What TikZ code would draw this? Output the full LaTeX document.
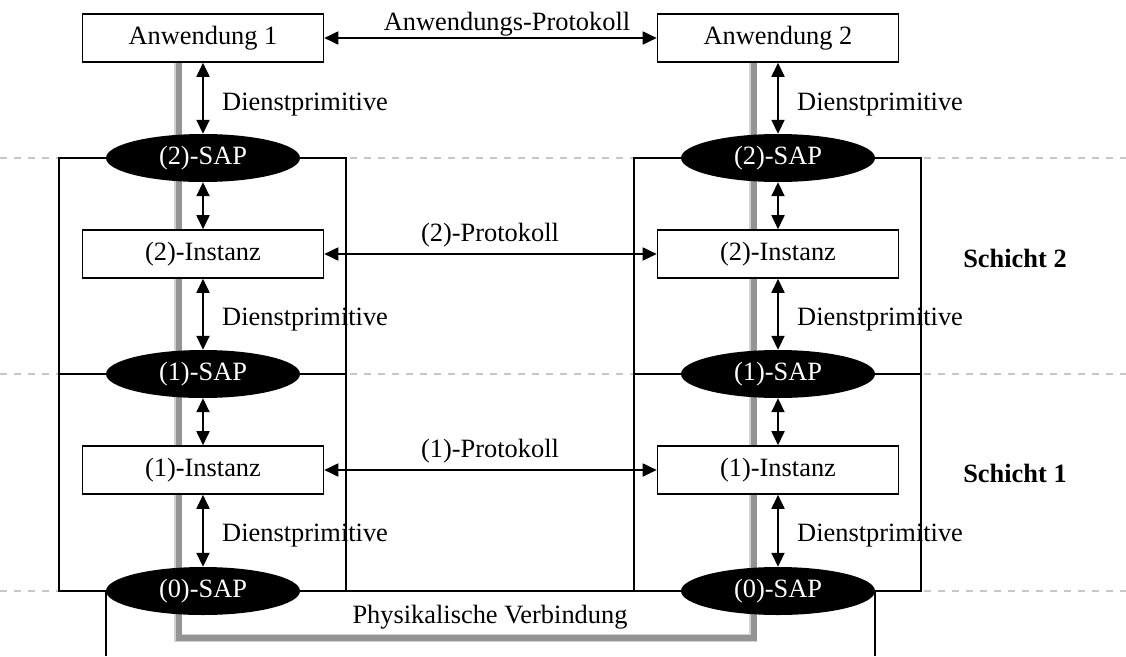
\documentclass[tikz,border=0pt]{standalone}
\usepackage{fontspec}
\setmainfont{Liberation Serif}
\usetikzlibrary{arrows.meta,shapes.geometric,backgrounds,calc}
\begin{document}
\begin{tikzpicture}[x=1pt,y=-1pt,
  every node/.style={font=\fontsize{26.4}{30}\selectfont, inner sep=0pt},
  box/.style={draw, line width=1.6pt, fill=white, minimum width=241pt, minimum height=48pt},
  sap/.style={ellipse, fill=black, text=white, minimum width=194pt, minimum height=48pt},
  arr/.style={line width=1.8pt, {Triangle[length=14pt,width=13pt]}-{Triangle[length=14pt,width=13pt]}},
  frame/.style={line width=1.6pt, line join=miter},
  sepline/.style={draw=black!22, line width=1.8pt, dash pattern=on 7pt off 7pt},
  physhalo/.style={line width=7.5pt, draw=black!18, line join=miter},
  phys/.style={line width=5.5pt, draw=black!42, line join=miter},
  lbl/.style={anchor=base west},
  clbl/.style={anchor=base},
  layer/.style={anchor=base, font=\fontsize{26.4}{30}\selectfont\bfseries},
]
\useasboundingbox (0,0) rectangle (1126,656);

% left column
\node[box] (a1) at (203,38) {Anwendung 1};
\node[sap] (s2a) at (203,158) {(2)-SAP};
\node[box] (i2a) at (203,254) {(2)-Instanz};
\node[sap] (s1a) at (203,374) {(1)-SAP};
\node[box] (i1a) at (203,470) {(1)-Instanz};
\node[sap] (s0a) at (203,591) {(0)-SAP};

% right column
\node[box] (a2) at (778,38) {Anwendung 2};
\node[sap] (s2b) at (778,158) {(2)-SAP};
\node[box] (i2b) at (778,254) {(2)-Instanz};
\node[sap] (s1b) at (778,374) {(1)-SAP};
\node[box] (i1b) at (778,470) {(1)-Instanz};
\node[sap] (s0b) at (778,591) {(0)-SAP};

% helper coordinates
\coordinate (fLl) at (59,158);
\coordinate (fLr) at (346,158);
\coordinate (fRl) at (634,158);
\coordinate (fRr) at (921,158);
\coordinate (bot) at (0,656);
\coordinate (gb) at (0,638);
\coordinate (xl) at (0,0);
\coordinate (xr) at (1126,0);

\begin{pgfonlayer}{background}
  % dashed layer separators
  \draw[sepline] (s2a.center -| xl) -- (s2a.center -| xr);
  \draw[sepline] (s1a.center -| xl) -- (s1a.center -| xr);
  \draw[sepline] (s0a.center -| xl) -- (s0a.center -| xr);
  % physical connection (grey)
  \draw[physhalo] ([xshift=-25pt]a1.south) -- ([xshift=-25pt]a1.south |- gb) -- ([xshift=-25pt]a2.south |- gb) -- ([xshift=-25pt]a2.south);
  \draw[phys] ([xshift=-24pt]a1.south) -- ([xshift=-24pt]a1.south |- gb) -- ([xshift=-24pt]a2.south |- gb) -- ([xshift=-24pt]a2.south);
  % left frame
  \draw[frame] (s2a.west) -- (fLl) -- (fLl |- s0a.west) -- (s0a.west);
  \draw[frame] (s2a.east) -- (fLr) -- (fLr |- s0a.east);
  \draw[frame] (s1a.west) -- (s1a.west -| fLl);
  \draw[frame] (s1a.east) -- (s1a.east -| fLr);
  % right frame
  \draw[frame] (s2b.west) -- (fRl) -- (fRl |- s0b.west);
  \draw[frame] (s2b.east) -- (fRr) -- (fRr |- s0b.east) -- (s0b.east);
  \draw[frame] (s1b.west) -- (s1b.west -| fRl);
  \draw[frame] (s1b.east) -- (s1b.east -| fRr);
  % bottom connection
  \draw[frame] (s0a.east) -- (s0b.west);
  \draw[frame] (s0a.west) -- (s0a.west |- bot);
  \draw[frame] (s0b.east) -- (s0b.east |- bot);
\end{pgfonlayer}

% vertical service arrows
\draw[arr] (a1.south) -- (s2a.north);
\draw[arr] (s2a.south) -- (i2a.north);
\draw[arr] (i2a.south) -- (s1a.north);
\draw[arr] (s1a.south) -- (i1a.north);
\draw[arr] (i1a.south) -- (s0a.north);
\draw[arr] (a2.south) -- (s2b.north);
\draw[arr] (s2b.south) -- (i2b.north);
\draw[arr] (i2b.south) -- (s1b.north);
\draw[arr] (s1b.south) -- (i1b.north);
\draw[arr] (i1b.south) -- (s0b.north);

% protocol arrows
\draw[arr] (a1.east) -- (a2.west);
\draw[arr] (i2a.east) -- (i2b.west);
\draw[arr] (i1a.east) -- (i1b.west);

% labels
\node[clbl] (lap) at (507,30) {Anwendungs-Protokoll};
\node[clbl] (lp2) at (490,241) {(2)-Protokoll};
\node[clbl] (lp1) at (490,457) {(1)-Protokoll};
\node[clbl] (lph) at (490,623) {Physikalische Verbindung};

\node[lbl] (d1a) at (222,110) {Dienstprimitive};
\node[lbl] (d2a) at (222,325) {Dienstprimitive};
\node[lbl] (d3a) at (222,541) {Dienstprimitive};
\node[lbl] (d1b) at (797,110) {Dienstprimitive};
\node[lbl] (d2b) at (797,325) {Dienstprimitive};
\node[lbl] (d3b) at (797,541) {Dienstprimitive};

\node[layer] (sch2) at (1015,267) {Schicht 2};
\node[layer] (sch1) at (1015,482) {Schicht 1};
\end{tikzpicture}
\end{document}
